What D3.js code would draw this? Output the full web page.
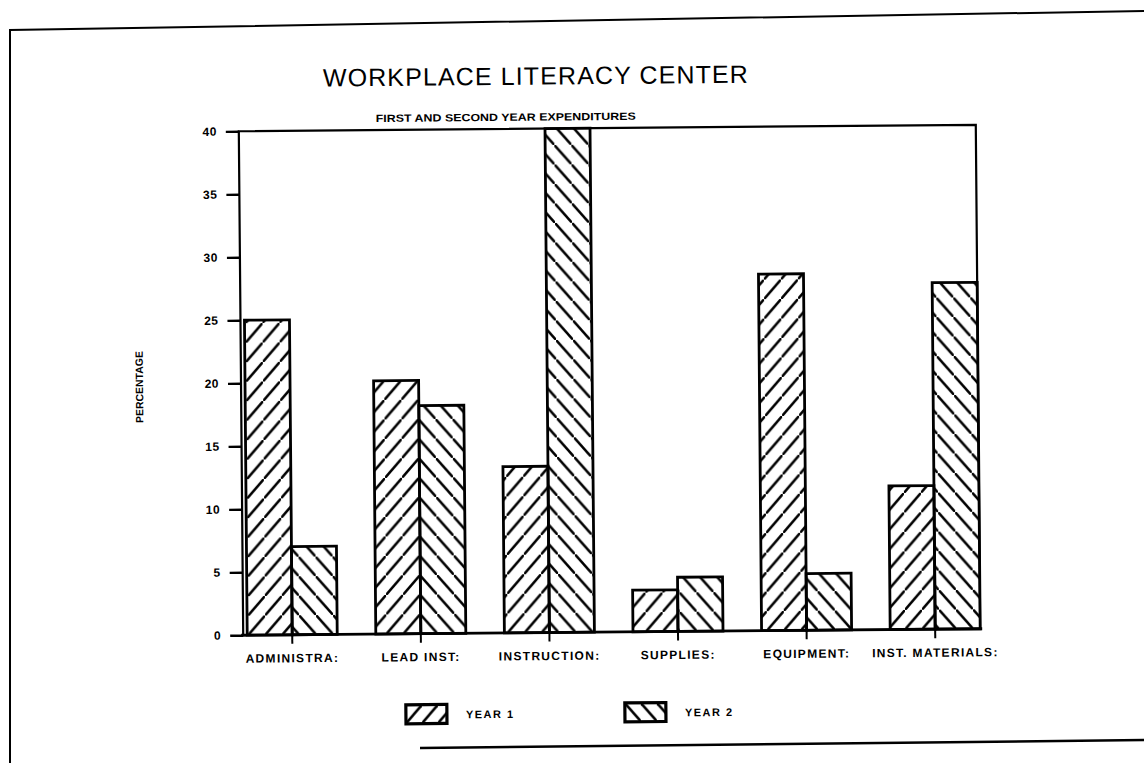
<!DOCTYPE html>
<html>
<head>
<meta charset="utf-8">
<script src="https://cdn.jsdelivr.net/npm/d3@7"></script>
<style>
  body { margin: 0; background: #fff; }
  svg { display: block; }
  .lbl { font-family: "Liberation Sans", Arial, sans-serif; font-weight: bold; fill: #000; }
</style>
</head>
<body>
<svg id="svg" width="1144" height="763"></svg>
<script>
const categories = ["ADMINISTRA:", "LEAD INST:", "INSTRUCTION:", "SUPPLIES:", "EQUIPMENT:", "INST. MATERIALS:"];
const year1 = [25, 20.1, 13.2, 3.3, 28.3, 11.4];
const year2 = [7.0, 18.1, 40, 4.3, 4.5, 27.5];
const seriesNames = ["YEAR 1", "YEAR 2"];
const yTicks = [0, 5, 10, 15, 20, 25, 30, 35, 40];

const svg = d3.select("#svg");
const defs = svg.append("defs");

// scanned page frame
svg.append("path")
  .attr("d", "M10,763 L10,30 L1144,11")
  .attr("fill", "none").attr("stroke", "#000").attr("stroke-width", 2);
svg.append("path")
  .attr("d", "M420,748 L1144,740")
  .attr("fill", "none").attr("stroke", "#000").attr("stroke-width", 2.5);

// whole chart sits slightly skewed like the scan
const g = svg.append("g").attr("transform", "rotate(-0.5,610,380)");

const pLeft = 241, pRight = 978, pTop = 128, pBottom = 632;
const y = d3.scaleLinear().domain([0, 40]).range([pBottom, pTop]);
const x = d3.scaleBand().domain(categories).range([245, pRight]).paddingInner(0.3).paddingOuter(0);
const xs = d3.scaleBand().domain(seriesNames).range([0, x.bandwidth()]);

const rows = categories.map((c, i) => ({ cat: c, values: [year1[i], year2[i]] }));

// hatch patterns: one per bar, anchored on the shared edge so they form chevrons
const hw = 17, hh = 19.5;
rows.forEach((r, i) => {
  const edge = x(r.cat) + xs.bandwidth();
  seriesNames.forEach((s, k) => {
    const p = defs.append("pattern")
      .attr("id", "h" + i + "_" + k)
      .attr("patternUnits", "userSpaceOnUse")
      .attr("x", edge).attr("y", pBottom)
      .attr("width", hw).attr("height", hh);
    const d = k === 0
      ? `M-2,${hh + 2 * hh / hw} L${hw + 2},${-2 * hh / hw}`
      : `M-2,${-2 * hh / hw} L${hw + 2},${hh + 2 * hh / hw}`;
    p.append("path").attr("d", d).attr("stroke", "#000").attr("stroke-width", 2.5);
  });
});

// bars
const groups = g.selectAll(".grp").data(rows).enter().append("g")
  .attr("class", "grp")
  .attr("transform", (d) => "translate(" + x(d.cat) + ",0)");
groups.selectAll("rect")
  .data((d, i) => d.values.map((v, k) => ({ v: v, k: k, i: i })))
  .enter().append("rect")
  .attr("x", (d) => xs(seriesNames[d.k]))
  .attr("width", xs.bandwidth())
  .attr("y", (d) => y(d.v))
  .attr("height", (d) => pBottom - y(d.v))
  .attr("fill", (d) => "url(#h" + d.i + "_" + d.k + ")")
  .attr("stroke", "#000").attr("stroke-width", 2.8);

// plot box
g.append("path")
  .attr("d", `M${pLeft},${pBottom} L${pLeft},${pTop} L${pRight},${pTop} L${pRight},${pBottom}`)
  .attr("fill", "none").attr("stroke", "#000").attr("stroke-width", 2.2);
g.append("line")
  .attr("x1", pLeft - 2).attr("x2", pRight + 2).attr("y1", pBottom).attr("y2", pBottom)
  .attr("stroke", "#000").attr("stroke-width", 2.8);

// y axis
const yAxis = g.append("g").attr("transform", "translate(" + pLeft + ",0)")
  .call(d3.axisLeft(y).tickValues(yTicks).tickSize(13).tickPadding(9));
yAxis.select(".domain").remove();
yAxis.selectAll(".tick line").attr("stroke", "#000").attr("stroke-width", 2.4);
yAxis.selectAll(".tick text").attr("class", "lbl").style("font-size", "12px")
  .style("letter-spacing", "0.5px");

// x axis
const xAxis = g.append("g").attr("transform", "translate(0," + pBottom + ")")
  .call(d3.axisBottom(x).tickSize(9).tickPadding(10));
xAxis.select(".domain").remove();
xAxis.selectAll(".tick line").attr("stroke", "#000").attr("stroke-width", 2);
xAxis.selectAll(".tick text").attr("class", "lbl").style("font-size", "12px")
  .style("letter-spacing", "1.3px");

// titles
g.append("text")
  .attr("x", 538).attr("y", 84)
  .attr("text-anchor", "middle")
  .attr("textLength", 425).attr("lengthAdjust", "spacing")
  .style("font-family", "'Liberation Sans', Arial, sans-serif")
  .style("font-size", "25px").style("fill", "#000")
  .text("WORKPLACE LITERACY CENTER");
g.append("text")
  .attr("class", "lbl")
  .attr("x", 508).attr("y", 120)
  .attr("text-anchor", "middle")
  .attr("textLength", 260).attr("lengthAdjust", "spacingAndGlyphs")
  .style("font-size", "10.5px")
  .text("FIRST AND SECOND YEAR EXPENDITURES");
g.append("text")
  .attr("class", "lbl")
  .attr("transform", "translate(143,383) rotate(-90)")
  .attr("text-anchor", "middle")
  .attr("textLength", 72).attr("lengthAdjust", "spacingAndGlyphs")
  .style("font-size", "10.5px")
  .text("PERCENTAGE");

// legend
const legX = d3.scalePoint().domain(seriesNames).range([403, 622]);
const leg = g.selectAll(".legend").data(seriesNames).enter().append("g")
  .attr("class", "legend")
  .attr("transform", (d) => "translate(" + legX(d) + ",703)");
seriesNames.forEach((s, k) => {
  defs.append("pattern")
    .attr("id", "leg" + k)
    .attr("patternUnits", "userSpaceOnUse")
    .attr("x", 0).attr("y", 0)
    .attr("width", 16).attr("height", 19)
    .append("path")
    .attr("d", k === 0 ? "M-2,21 L18,-2" : "M-2,-2 L18,21")
    .attr("stroke", "#000").attr("stroke-width", 2.6);
});
leg.append("rect")
  .attr("width", 41).attr("height", 19)
  .attr("fill", (d, k) => "url(#leg" + k + ")")
  .attr("stroke", "#000").attr("stroke-width", 3.2);
leg.append("text")
  .attr("class", "lbl")
  .attr("x", 60).attr("y", 14)
  .style("font-size", "11px").style("letter-spacing", "1.5px")
  .text((d) => d);
</script>
</body>
</html>
